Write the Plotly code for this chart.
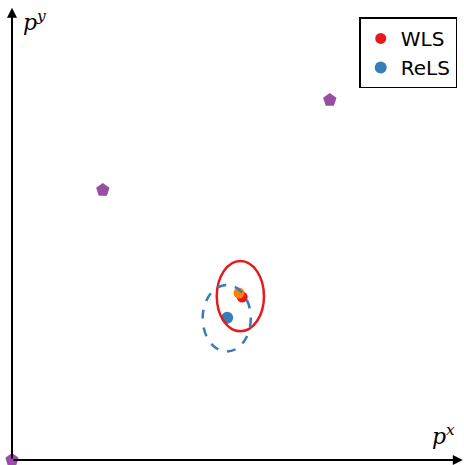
import plotly.graph_objects as go

# Anchor positions (purple)
anchor_x = [0.0, 2.0, 7.0, 10.0]
anchor_y = [0.0, 6.0, 8.0, 2.0]

# True position (orange) and the two estimates
true_x, true_y = [5.0], [3.71]
wls_x, wls_y = [5.07], [3.62]
rels_x, rels_y = [4.74], [3.16]

# Uncertainty ellipses: centre and semi-axes (x, y)
wls_ell = dict(cx=5.03, cy=3.64, ax=0.52, ay=0.78)
rels_ell = dict(cx=4.73, cy=3.15, ax=0.53, ay=0.74)

PURPLE = "#984ea3"
RED = "#e41a1c"
BLUE = "#377eb8"
ORANGE = "#ff7f00"

fig = go.Figure()

fig.add_trace(go.Scatter(x=anchor_x, y=anchor_y, mode="markers", showlegend=False,
                         marker=dict(symbol="pentagon", size=14, color=PURPLE),
                         cliponaxis=False))
fig.add_trace(go.Scatter(x=wls_x, y=wls_y, mode="markers", name="WLS",
                         marker=dict(symbol="circle", size=11, color=RED)))
fig.add_trace(go.Scatter(x=true_x, y=true_y, mode="markers", showlegend=False,
                         marker=dict(symbol="circle", size=11, color=ORANGE)))
fig.add_trace(go.Scatter(x=rels_x, y=rels_y, mode="markers", name="ReLS",
                         marker=dict(symbol="circle", size=12, color=BLUE)))

for ell, col, dash in [(wls_ell, RED, "solid"), (rels_ell, BLUE, "dash")]:
    fig.add_shape(type="circle", xref="x", yref="y",
                  x0=ell["cx"] - ell["ax"], x1=ell["cx"] + ell["ax"],
                  y0=ell["cy"] - ell["ay"], y1=ell["cy"] + ell["ay"],
                  line=dict(color=col, width=2.5, dash=dash))

# Axis arrows
fig.add_annotation(x=0, y=10.05, ax=0, ay=0, xref="x", yref="y", axref="x", ayref="y",
                   showarrow=True, arrowhead=2, arrowsize=1, arrowwidth=2, arrowcolor="black", text="")
fig.add_annotation(x=9.93, y=0, ax=0, ay=0, xref="x", yref="y", axref="x", ayref="y",
                   showarrow=True, arrowhead=2, arrowsize=1, arrowwidth=2, arrowcolor="black", text="")

fig.add_annotation(x=0.2, y=9.75, xref="x", yref="y", showarrow=False, xanchor="left",
                   text="<i>p</i><sup><i>y</i></sup>",
                   font=dict(family="DejaVu Serif", size=22, color="black"))
fig.add_annotation(x=9.5, y=0.2, xref="x", yref="y", showarrow=False, xanchor="center",
                   yanchor="bottom", text="<i>p</i><sup><i>x</i></sup>",
                   font=dict(family="DejaVu Serif", size=22, color="black"))

fig.update_layout(
    width=464, height=465,
    margin=dict(l=12, r=0, t=0, b=5),
    plot_bgcolor="white", paper_bgcolor="white",
    xaxis=dict(range=[0, 452 / 45.4], visible=False, fixedrange=True),
    yaxis=dict(range=[0, 460 / 45], visible=False, fixedrange=True),
    legend=dict(x=0.985, y=0.962, xanchor="right", yanchor="top",
                bordercolor="black", borderwidth=1.5, bgcolor="white",
                font=dict(family="DejaVu Sans", size=20, color="black"),
                itemwidth=30, tracegroupgap=0),
)

fig.write_html("out.html")
